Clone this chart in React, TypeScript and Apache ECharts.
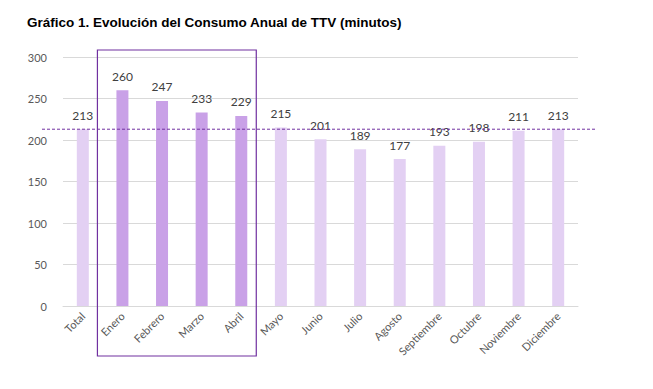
import React, { useEffect, useRef } from "react";
import * as echarts from "echarts";

const title = "Gráfico 1. Evolución del Consumo Anual de TTV (minutos)";
const categories = ["Total", "Enero", "Febrero", "Marzo", "Abril", "Mayo", "Junio", "Julio", "Agosto", "Septiembre", "Octubre", "Noviembre", "Diciembre"];
const values = [213, 260, 247, 233, 229, 215, 201, 189, 177, 193, 198, 211, 213];
const highlighted = ["Enero", "Febrero", "Marzo", "Abril"];
const referenceValue = 213;
const yTicks = { min: 0, max: 300, interval: 50 };

const LIGHT = "#e3d0f3";
const STRONG = "#c9a1e7";
const FRAME = "#7030a0";

export default function App() {
  const ref = useRef<HTMLDivElement>(null);
  useEffect(() => {
    if (!ref.current) return;
    const chart = echarts.init(ref.current, null, { renderer: "svg" });
    const font = "Lato, 'Open Sans', sans-serif";
    chart.setOption({
      animation: false,
      title: {
        text: title,
        left: 22,
        top: 10,
        textStyle: { fontFamily: "'Liberation Sans', Arial, sans-serif", fontSize: 13.5, fontWeight: "bold", color: "#000" },
      },
      grid: { left: 63, right: 75, top: 57, bottom: 83 },
      xAxis: {
        type: "category",
        data: categories,
        axisLine: { lineStyle: { color: "#d9d9d9" } },
        axisTick: { show: false },
        axisLabel: { rotate: 45, color: "#595959", fontSize: 11, fontFamily: font, interval: 0, margin: 8 },
      },
      yAxis: {
        type: "value",
        min: yTicks.min,
        max: yTicks.max,
        interval: yTicks.interval,
        axisLine: { show: false },
        axisTick: { show: false },
        splitLine: { lineStyle: { color: "#d9d9d9" } },
        axisLabel: { color: "#595959", fontSize: 11, fontFamily: font, margin: 16 },
      },
      series: [
        {
          type: "bar",
          barWidth: 12,
          data: values.map((v, i) => ({
            value: v,
            itemStyle: { color: highlighted.includes(categories[i]) ? STRONG : LIGHT },
          })),
          label: { show: true, position: "top", distance: 8, color: "#404040", fontSize: 12, fontFamily: font },
        },
      ],
    });
    const y = chart.convertToPixel({ gridIndex: 0 }, [0, referenceValue])[1];
    const x1 = chart.convertToPixel({ gridIndex: 0 }, [highlighted[0], 0])[0];
    const x2 = chart.convertToPixel({ gridIndex: 0 }, [highlighted[highlighted.length - 1], 0])[0];
    const yTop = chart.convertToPixel({ gridIndex: 0 }, [0, yTicks.max])[1];
    chart.setOption({
      graphic: [
        {
          type: "line",
          shape: { x1: 42, y1: y, x2: 596, y2: y },
          style: { stroke: FRAME, lineWidth: 1, lineDash: [3, 2] },
          z: 10,
        },
        {
          type: "rect",
          shape: { x: x1 - 25, y: yTop - 7, width: x2 - x1 + 40, height: 306 },
          style: { fill: "none", stroke: FRAME, lineWidth: 1.2 },
          z: 10,
        },
      ],
    });
    return () => chart.dispose();
  }, []);
  return <div ref={ref} style={{ position: "fixed", left: 0, top: 0, width: 653, height: 389, background: "#fff" }} />;
}
